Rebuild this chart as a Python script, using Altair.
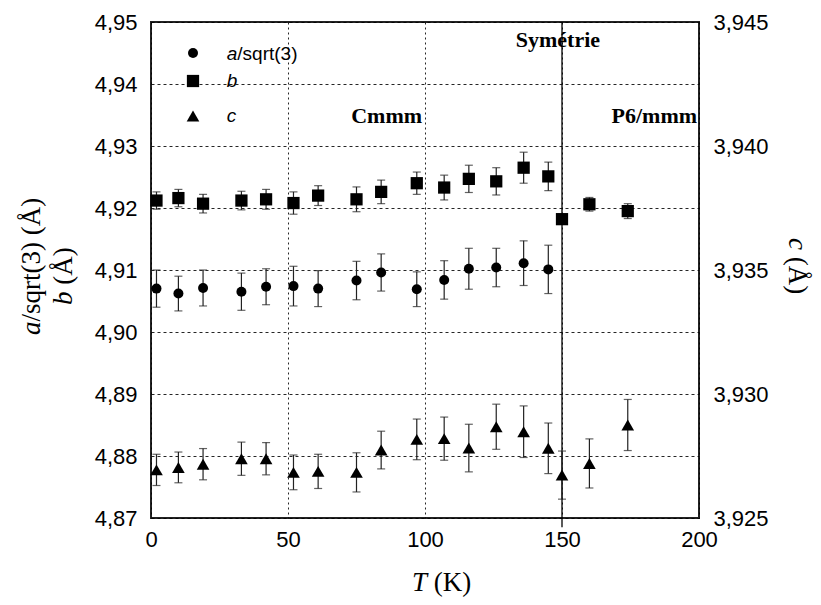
import altair as alt
import pandas as pd

# ---- data ----
T = [2, 10, 19, 33, 42, 52, 61, 75, 84, 97, 107, 116, 126, 136, 145, 150, 160, 174]

b_val = [4.9212, 4.9216, 4.9207, 4.9212, 4.9214, 4.9208, 4.9220, 4.9214, 4.9226,
         4.9240, 4.9233, 4.9247, 4.9243, 4.9265, 4.9251, 4.9182, 4.9206, 4.9195]
b_err = [0.0014, 0.0014, 0.0015, 0.0015, 0.0016, 0.0018, 0.0016, 0.0020, 0.0019,
         0.0018, 0.0020, 0.0022, 0.0022, 0.0025, 0.0023, 0.0008, 0.0011, 0.0012]

a_val = [4.9070, 4.9062, 4.9071, 4.9065, 4.9073, 4.9074, 4.9070, 4.9083, 4.9096,
         4.9069, 4.9084, 4.9102, 4.9104, 4.9111, 4.9101]
a_err = [0.0030, 0.0028, 0.0029, 0.0030, 0.0029, 0.0032, 0.0029, 0.0031, 0.0030,
         0.0028, 0.0031, 0.0033, 0.0031, 0.0036, 0.0039]

c_val = [3.92694, 3.92704, 3.92717, 3.92739, 3.92739, 3.92684, 3.92688, 3.92684, 3.92774,
         3.92817, 3.92820, 3.92782, 3.92868, 3.92848, 3.92781, 3.92673, 3.92720, 3.92875]
c_err = [0.00063, 0.00062, 0.00063, 0.00067, 0.00065, 0.00070, 0.00069, 0.00079, 0.00076,
         0.00082, 0.00087, 0.00096, 0.00091, 0.00104, 0.00102, 0.00097, 0.00099, 0.00103]

x_ticks = [0, 50, 100, 150, 200]
left_ticks = [4.87, 4.88, 4.89, 4.90, 4.91, 4.92, 4.93, 4.94, 4.95]
right_ticks = [3.925, 3.930, 3.935, 3.940, 3.945]
phase_T = 150

annot_text = ["Symétrie", "Cmmm", "P6/mmm"]
annot_T = [148.5, 86, 199.3]
annot_y = [4.9459, 4.9337, 4.9337]
annot_align = ["center", "center", "right"]


def frame(tv, vals, errs):
    return pd.DataFrame({
        "T": tv[:len(vals)], "v": vals,
        "lo": [v - e for v, e in zip(vals, errs)],
        "hi": [v + e for v, e in zip(vals, errs)],
    })


df_a = frame(T, a_val, a_err)
df_b = frame(T, b_val, b_err)
df_c = frame(T, c_val, c_err)

SANS = "Liberation Sans"
SERIF = "Liberation Serif"

x_scale = alt.Scale(domain=[0, 200], nice=False)
x_axis = alt.Axis(values=x_ticks, title="", grid=True, gridDash=[2, 3],
                  gridColor="#000", gridOpacity=0.85, labelFontSize=22,
                  labelFont=SANS, labelColor="#000", labelPadding=11,
                  labelFlush=False, ticks=False, domain=False)


def X(field="T:Q"):
    return alt.X(field, scale=x_scale, axis=x_axis)


left_scale = alt.Scale(domain=[4.87, 4.95], nice=False, zero=False)
right_scale = alt.Scale(domain=[3.925, 3.945], nice=False, zero=False)

left_axis = alt.Axis(values=left_ticks, title="", grid=True, gridDash=[3, 3],
                     gridColor="#000", gridOpacity=0.85, labelFontSize=22,
                     labelFont=SANS, labelColor="#000", labelPadding=14,
                     labelFlush=False, ticks=False, domain=False,
                     labelExpr="replace(format(datum.value, '.2f'), '.', ',')")
right_axis = alt.Axis(values=right_ticks, title="", grid=False, orient="right",
                      labelFontSize=22, labelFont=SANS, labelColor="#000",
                      labelPadding=14, labelFlush=False, ticks=False, domain=False,
                      labelExpr="replace(format(datum.value, '.3f'), '.', ',')")


def series(df, shape, size, scale, axis):
    base = alt.Chart(df)
    rule = base.mark_rule(color="#222", strokeWidth=1.2).encode(
        x=X(), y=alt.Y("lo:Q", scale=scale, axis=axis), y2="hi:Q")
    cap_lo = base.mark_tick(orient="horizontal", size=8, thickness=1.2, color="#222").encode(
        x=X(), y=alt.Y("lo:Q", scale=scale, axis=axis))
    cap_hi = base.mark_tick(orient="horizontal", size=8, thickness=1.2, color="#222").encode(
        x=X(), y=alt.Y("hi:Q", scale=scale, axis=axis))
    pts = base.mark_point(shape=shape, filled=True, size=size, color="#000", opacity=1).encode(
        x=X(), y=alt.Y("v:Q", scale=scale, axis=axis))
    return [rule, cap_lo, cap_hi, pts]


ann_df = pd.DataFrame({"text": annot_text, "T": annot_T, "y": annot_y})
annots = []
for i in range(len(annot_text)):
    annots.append(
        alt.Chart(ann_df.iloc[[i]]).mark_text(
            font=SERIF, fontSize=22, fontWeight="bold", color="#000",
            align=annot_align[i], baseline="alphabetic").encode(
            x=X(), y=alt.Y("y:Q", scale=left_scale, axis=left_axis),
            text="text:N"))

phase_df = pd.DataFrame({"T": [phase_T], "y1": [4.95], "y2": [4.8685]})
phase_rule = alt.Chart(phase_df).mark_rule(color="#000", strokeWidth=1.3, clip=False).encode(
    x=X(), y=alt.Y("y1:Q", scale=left_scale, axis=left_axis), y2="y2:Q")

one = pd.DataFrame({"k": [0]})


def txt(s, x, y, size=19, font=SANS, style="normal", angle=0, align="left"):
    return alt.Chart(one).mark_text(
        text=s, font=font, fontSize=size, fontStyle=style, color="#000",
        align=align, baseline="alphabetic", angle=angle).encode(
        x=alt.value(x), y=alt.value(y))


def sym(shape, size, x, y):
    return alt.Chart(one).mark_point(shape=shape, filled=True, size=size,
                                     color="#000", opacity=1).encode(
        x=alt.value(x), y=alt.value(y))


legend = [
    sym("circle", 100, 42, 31), txt("a", 75.7, 38, style="italic"), txt("/sqrt(3)", 86.3, 38),
    sym("square", 150, 42, 59), txt("b", 75.7, 65, style="italic"),
    sym("triangle-up", 160, 42, 94), txt("c", 75.7, 100, style="italic"),
]

TS = 27
titles = [
    txt("a", -111, 313, size=TS, font=SERIF, style="italic", angle=270),
    txt("/sqrt(3) (Å)", -111, 299.5, size=TS, font=SERIF, angle=270),
    txt("b", -79, 283, size=TS, font=SERIF, style="italic", angle=270),
    txt("(Å)", -79, 262.7, size=TS, font=SERIF, angle=270),
    txt("c", 638, 216, size=TS, font=SERIF, style="italic", angle=90),
    txt("(Å)", 638, 234.7, size=TS, font=SERIF, angle=90),
    txt("T", 261, 569, size=TS, font=SERIF, style="italic"),
    txt("(K)", 282.7, 569, size=TS, font=SERIF),
]

left_layer = alt.layer(
    *series(df_b, "square", 150, left_scale, left_axis),
    *series(df_a, "circle", 100, left_scale, left_axis),
    phase_rule, *annots,
)
right_layer = alt.layer(*series(df_c, "triangle-up", 160, right_scale, right_axis))

chart = alt.layer(left_layer, right_layer, *legend, *titles).resolve_scale(
    y="independent"
).properties(
    width=548, height=496,
    padding={"left": 143, "top": 14, "right": 114, "bottom": 83},
    autosize=alt.AutoSizeParams(type="none"),
).configure(background="white").configure_view(stroke="#222", strokeWidth=2)

chart.save("out.html", embed_options={"renderer": "svg", "actions": False})
